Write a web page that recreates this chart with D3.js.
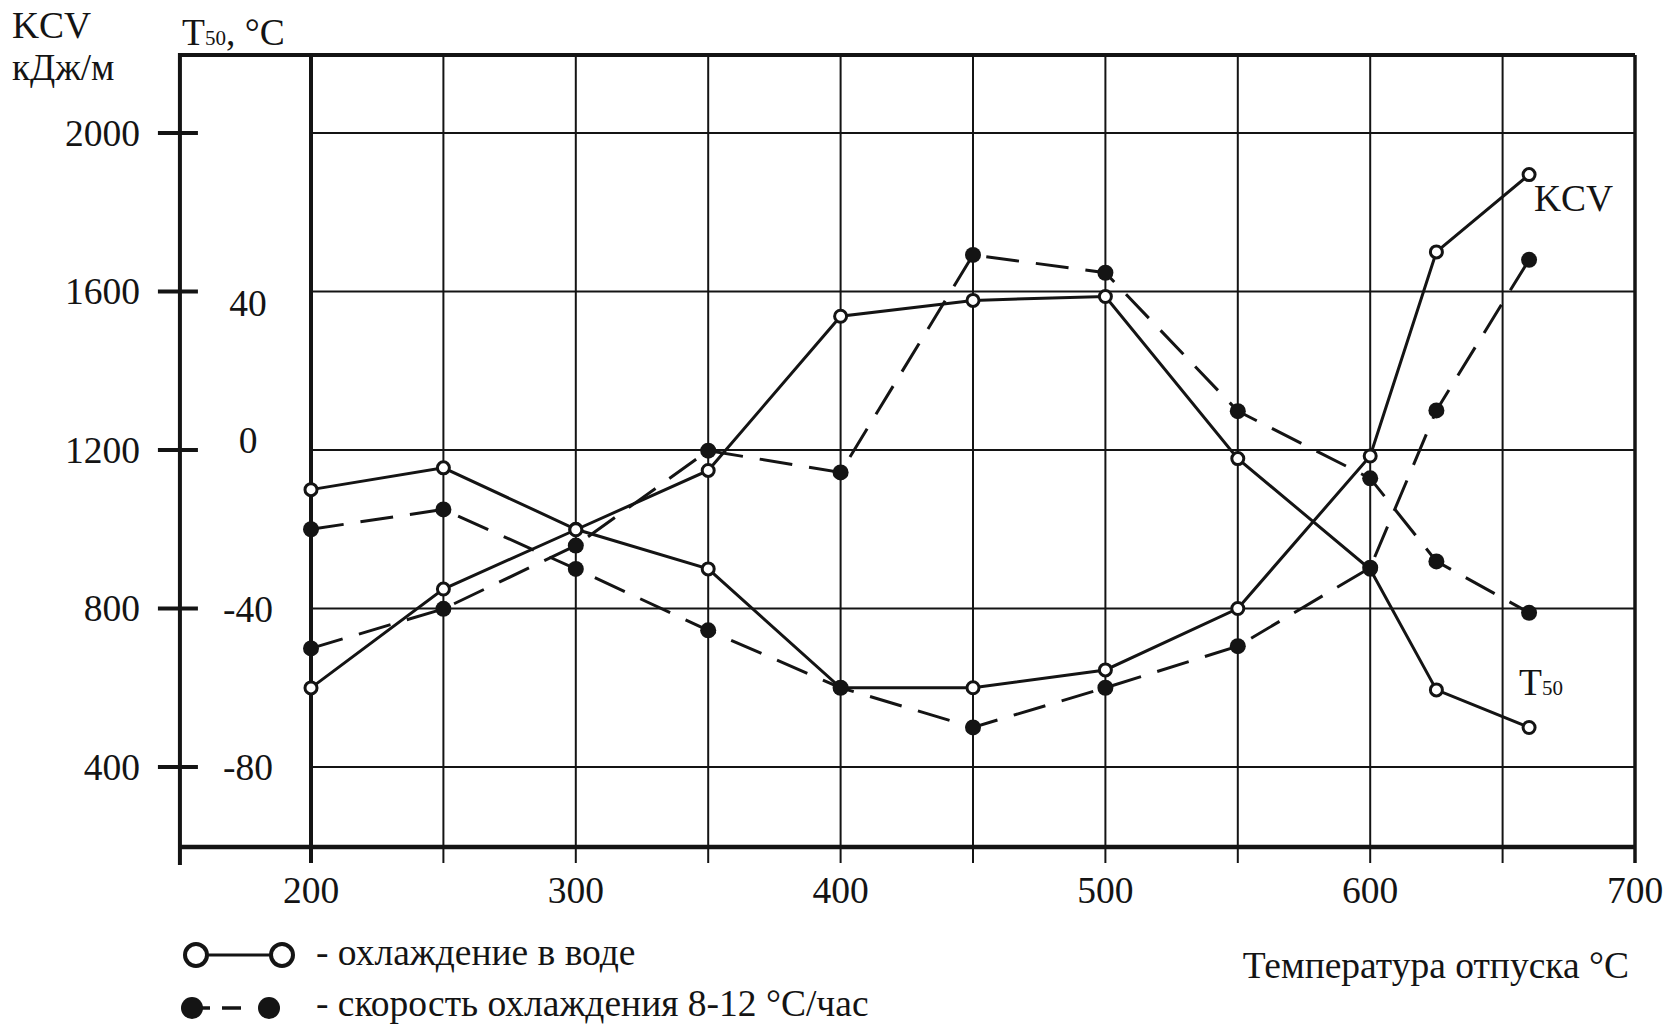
<!DOCTYPE html>
<html><head><meta charset="utf-8">
<script src="https://cdn.jsdelivr.net/npm/d3@7"></script>
<style>
body{margin:0;background:#fff}
svg{display:block}
text{font-family:"Liberation Serif","Times New Roman",serif;fill:#141414}
</style>
</head><body>
<svg id="c" width="1667" height="1026"></svg>
<script>
// ---- data ----
const temps     = [200, 250, 300, 350, 400, 450, 500, 550, 600, 625, 660];
const kcvWater  = [1100, 1155, 1000, 900, 600, 600, 645, 800, 1185, 1700, 1895];
const kcvSlow   = [1000, 1050, 900, 745, 600, 500, 600, 705, 903, 1300, 1680];
const t50Water  = [-60, -35, -20, -5, 34, 38, 39, -2, -30, -60.5, -70];
const t50Slow   = [-50, -40, -24, 0, -5.5, 49.5, 45, 10, -7, -28, -41];
const xLabels   = [200, 300, 400, 500, 600, 700];
const xGrid     = [200, 250, 300, 350, 400, 450, 500, 550, 600, 650, 700];
const kcvTicks  = [400, 800, 1200, 1600, 2000];
const t50Ticks  = [-80, -40, 0, 40];
const legendLabels = ["- охлаждение в воде", "- скорость охлаждения 8-12 °С/час"];

// ---- scales ----
const ink = "#141414";
const FS = 37.5;
const svg = d3.select("#c");
const x = d3.scaleLinear().domain([200, 700]).range([311, 1635]);
const y = d3.scaleLinear().domain([400, 2000]).range([767, 133]);   // KCV
const t = d3.scaleLinear().domain([-80, 40]).range([767, 292.5]);    // T50 (same pixel grid)
const topY = 55, bottomY = 847, leftX = x(150.5);

// ---- grid ----
const g = svg.append("g");
g.selectAll("line.h").data(kcvTicks).join("line")
  .attr("x1", x(200)).attr("x2", x(700))
  .attr("y1", d => y(d)).attr("y2", d => y(d))
  .attr("stroke", ink).attr("stroke-width", 2);
g.selectAll("line.v").data(xGrid).join("line")
  .attr("x1", d => x(d)).attr("x2", d => x(d))
  .attr("y1", topY).attr("y2", bottomY + 16)
  .attr("stroke", ink)
  .attr("stroke-width", d => d === 200 ? 4 : (d === 700 ? 3.5 : 2));

// ---- frame/axes ----
g.append("line").attr("x1", leftX).attr("x2", x(700)).attr("y1", topY).attr("y2", topY)
  .attr("stroke", ink).attr("stroke-width", 4);
g.append("line").attr("x1", leftX).attr("x2", x(700)).attr("y1", bottomY).attr("y2", bottomY)
  .attr("stroke", ink).attr("stroke-width", 4.5);
g.append("line").attr("x1", leftX).attr("x2", leftX).attr("y1", topY - 2).attr("y2", bottomY + 18)
  .attr("stroke", ink).attr("stroke-width", 4);
g.selectAll("line.lt").data(kcvTicks).join("line")
  .attr("x1", leftX - 22).attr("x2", leftX + 18)
  .attr("y1", d => y(d)).attr("y2", d => y(d))
  .attr("stroke", ink).attr("stroke-width", 4);

// ---- tick labels ----
g.selectAll("text.k").data(kcvTicks).join("text")
  .attr("x", 140).attr("y", d => y(d)).attr("dy", "0.34em")
  .attr("text-anchor", "end").attr("font-size", FS).text(d => d);
g.selectAll("text.t").data(t50Ticks).join("text")
  .attr("x", 248).attr("y", d => t(d) + (d === 40 ? 11 : d === 0 ? -10 : 0)).attr("dy", "0.34em")
  .attr("text-anchor", "middle").attr("font-size", FS).text(d => d);
g.selectAll("text.x").data(xLabels).join("text")
  .attr("x", d => x(d)).attr("y", 903)
  .attr("text-anchor", "middle").attr("font-size", FS).text(d => d);

// ---- axis titles ----
svg.append("text").attr("x", 12).attr("y", 38).attr("font-size", FS).text("KCV");
svg.append("text").attr("x", 12).attr("y", 80).attr("font-size", 37).text("кДж/м");
const tt = svg.append("text").attr("x", 182).attr("y", 45).attr("font-size", FS);
tt.append("tspan").text("T");
tt.append("tspan").attr("font-size", 21).text("50");
tt.append("tspan").text(", °С");
svg.append("text").attr("x", 1629).attr("y", 978).attr("text-anchor", "end")
  .attr("font-size", FS).text("Температура отпуска °С");

// ---- series ----
const lineK = d3.line().x((d, i) => x(temps[i])).y(d => y(d));
const lineT = d3.line().x((d, i) => x(temps[i])).y(d => t(d));
const series = [
  {vals: kcvWater, line: lineK, sc: y, filled: false},
  {vals: t50Water, line: lineT, sc: t, filled: false},
  {vals: kcvSlow,  line: lineK, sc: y, filled: true},
  {vals: t50Slow,  line: lineT, sc: t, filled: true}
];
series.forEach(s => {
  svg.append("path").attr("d", s.line(s.vals)).attr("fill", "none")
    .attr("stroke", ink).attr("stroke-width", 3)
    .attr("stroke-dasharray", s.filled ? "33,17" : null);
});
series.filter(s => !s.filled).forEach(s => {
  svg.append("g").selectAll("circle").data(s.vals).join("circle")
    .attr("cx", (d, i) => x(temps[i])).attr("cy", d => s.sc(d)).attr("r", 6)
    .attr("fill", "#fff").attr("stroke", ink).attr("stroke-width", 3);
});
series.filter(s => s.filled).forEach(s => {
  svg.append("g").selectAll("circle").data(s.vals).join("circle")
    .attr("cx", (d, i) => x(temps[i])).attr("cy", d => s.sc(d)).attr("r", 8)
    .attr("fill", ink);
});

// ---- curve labels ----
svg.append("text").attr("x", 1534).attr("y", 211).attr("font-size", FS).text("KCV");
const tl = svg.append("text").attr("x", 1519).attr("y", 695).attr("font-size", FS);
tl.append("tspan").text("T");
tl.append("tspan").attr("font-size", 21).text("50");

// ---- legend ----
const lg = svg.append("g");
lg.append("line").attr("x1", 196).attr("x2", 282).attr("y1", 955).attr("y2", 955)
  .attr("stroke", ink).attr("stroke-width", 3);
lg.selectAll("circle.o").data([196, 282]).join("circle")
  .attr("cx", d => d).attr("cy", 955).attr("r", 11)
  .attr("fill", "#fff").attr("stroke", ink).attr("stroke-width", 4);
lg.append("line").attr("x1", 222).attr("x2", 241).attr("y1", 1008).attr("y2", 1008)
  .attr("stroke", ink).attr("stroke-width", 3.5);
lg.selectAll("circle.f").data([192, 269]).join("circle")
  .attr("cx", d => d).attr("cy", 1008).attr("r", 11).attr("fill", ink);
lg.append("line").attr("x1", 200).attr("x2", 210).attr("y1", 1008).attr("y2", 1008)
  .attr("stroke", ink).attr("stroke-width", 3.5);
lg.selectAll("text").data(legendLabels).join("text")
  .attr("x", 316).attr("y", (d, i) => i === 0 ? 965 : 1016)
  .attr("font-size", FS).text(d => d);
</script>
</body></html>
